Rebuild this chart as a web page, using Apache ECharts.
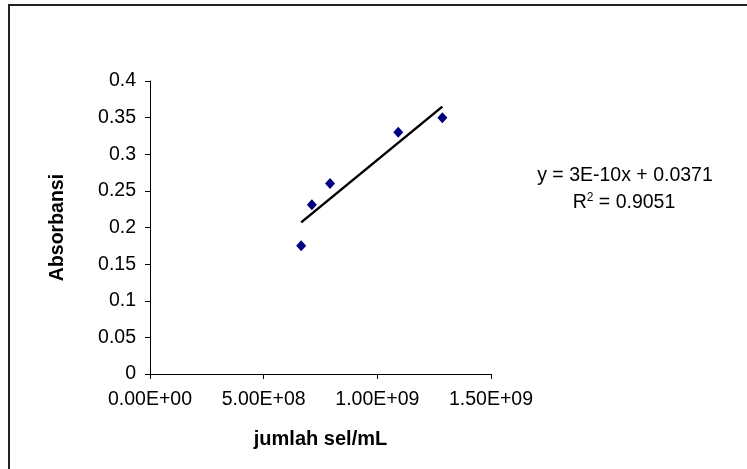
<!DOCTYPE html>
<html><head><meta charset="utf-8">
<script src="https://cdn.jsdelivr.net/npm/echarts@6/dist/echarts.min.js"></script>
<style>html,body{margin:0;padding:0;background:#fff}#c{width:747px;height:469px}</style>
</head><body><div id="c"></div>
<script>
var cellCounts = [6.65e8, 7.12e8, 7.92e8, 1.092e9, 1.286e9];
var absorbance = [0.175, 0.231, 0.26, 0.33, 0.35];
var xTicks = [0, 5e8, 1e9, 1.5e9];
var yTicks = [0, 0.05, 0.1, 0.15, 0.2, 0.25, 0.3, 0.35, 0.4];
var equationText = 'y = 3E-10x + 0.0371';
var r2Text = '0.9051';

// least-squares trendline from the data
var n = cellCounts.length, mx = 0, my = 0;
for (var i = 0; i < n; i++) { mx += cellCounts[i]; my += absorbance[i]; }
mx /= n; my /= n;
var sxy = 0, sxx = 0;
for (var i = 0; i < n; i++) { sxy += (cellCounts[i]-mx)*(absorbance[i]-my); sxx += (cellCounts[i]-mx)*(cellCounts[i]-mx); }
var slope = sxy/sxx, icpt = my - slope*mx;
var xmin = Math.min.apply(null, cellCounts), xmax = Math.max.apply(null, cellCounts);
var trend = [[xmin, icpt+slope*xmin],[xmax, icpt+slope*xmax]];

function fmtE(v){
  if (v === 0) return '0.00E+00';
  var e = Math.floor(Math.log10(v)); var m = v/Math.pow(10,e);
  return m.toFixed(2)+'E+'+(e<10?'0':'')+e;
}
var font = 'Liberation Sans, Arial, sans-serif';
var chart = echarts.init(document.getElementById('c'));
chart.setOption({
  animation:false,
  backgroundColor:'#fff',
  grid:{left:150, right:256, top:81, bottom:95},
  xAxis:{type:'value', min:xTicks[0], max:xTicks[xTicks.length-1], interval:5e8,
    name:'jumlah sel/mL', nameLocation:'middle', nameGap:55,
    nameTextStyle:{fontFamily:font, fontWeight:'bold', fontSize:20, color:'#000'},
    axisLine:{lineStyle:{color:'#000', width:1}},
    axisTick:{show:true, length:5, lineStyle:{color:'#000'}},
    axisLabel:{fontFamily:font, fontSize:19.5, color:'#000', margin:16, formatter:fmtE},
    splitLine:{show:false}},
  yAxis:{type:'value', min:yTicks[0], max:yTicks[yTicks.length-1], interval:0.05,
    name:'Absorbansi', nameLocation:'middle', nameGap:82, nameRotate:90,
    nameTextStyle:{fontFamily:font, fontWeight:'bold', fontSize:19.5, color:'#000'},
    axisLine:{show:true, lineStyle:{color:'#000', width:1}},
    axisTick:{show:true, length:5, lineStyle:{color:'#000'}},
    axisLabel:{fontFamily:font, fontSize:19.5, color:'#000', margin:14,
      formatter:function(v){return String(+v.toFixed(2));}},
    splitLine:{show:false}},
  series:[
    {type:'line', data:trend, symbol:'none', lineStyle:{color:'#000', width:2.5}, z:2},
    {type:'scatter', data:cellCounts.map(function(x,i){return [x,absorbance[i]];}),
      symbol:'diamond', symbolSize:[10,11], itemStyle:{color:'#000080', opacity:1}, z:3}
  ],
  graphic:[
    {type:'rect', shape:{x:9, y:5, width:760, height:480}, style:{fill:'none', stroke:'#222', lineWidth:2}, z:-1},
    {type:'text', x:625, y:176, style:{text:equationText, font:'19.5px '+font, fill:'#000', align:'center', verticalAlign:'middle'}},
    {type:'text', x:624, y:203, style:{text:'R{sup|2} = '+r2Text, font:'19.5px '+font, fill:'#000', align:'center', verticalAlign:'middle',
      rich:{sup:{fontSize:12, fontFamily:font, verticalAlign:'bottom', padding:[0,0,10,0]}}}}
  ]
});
</script></body></html>
